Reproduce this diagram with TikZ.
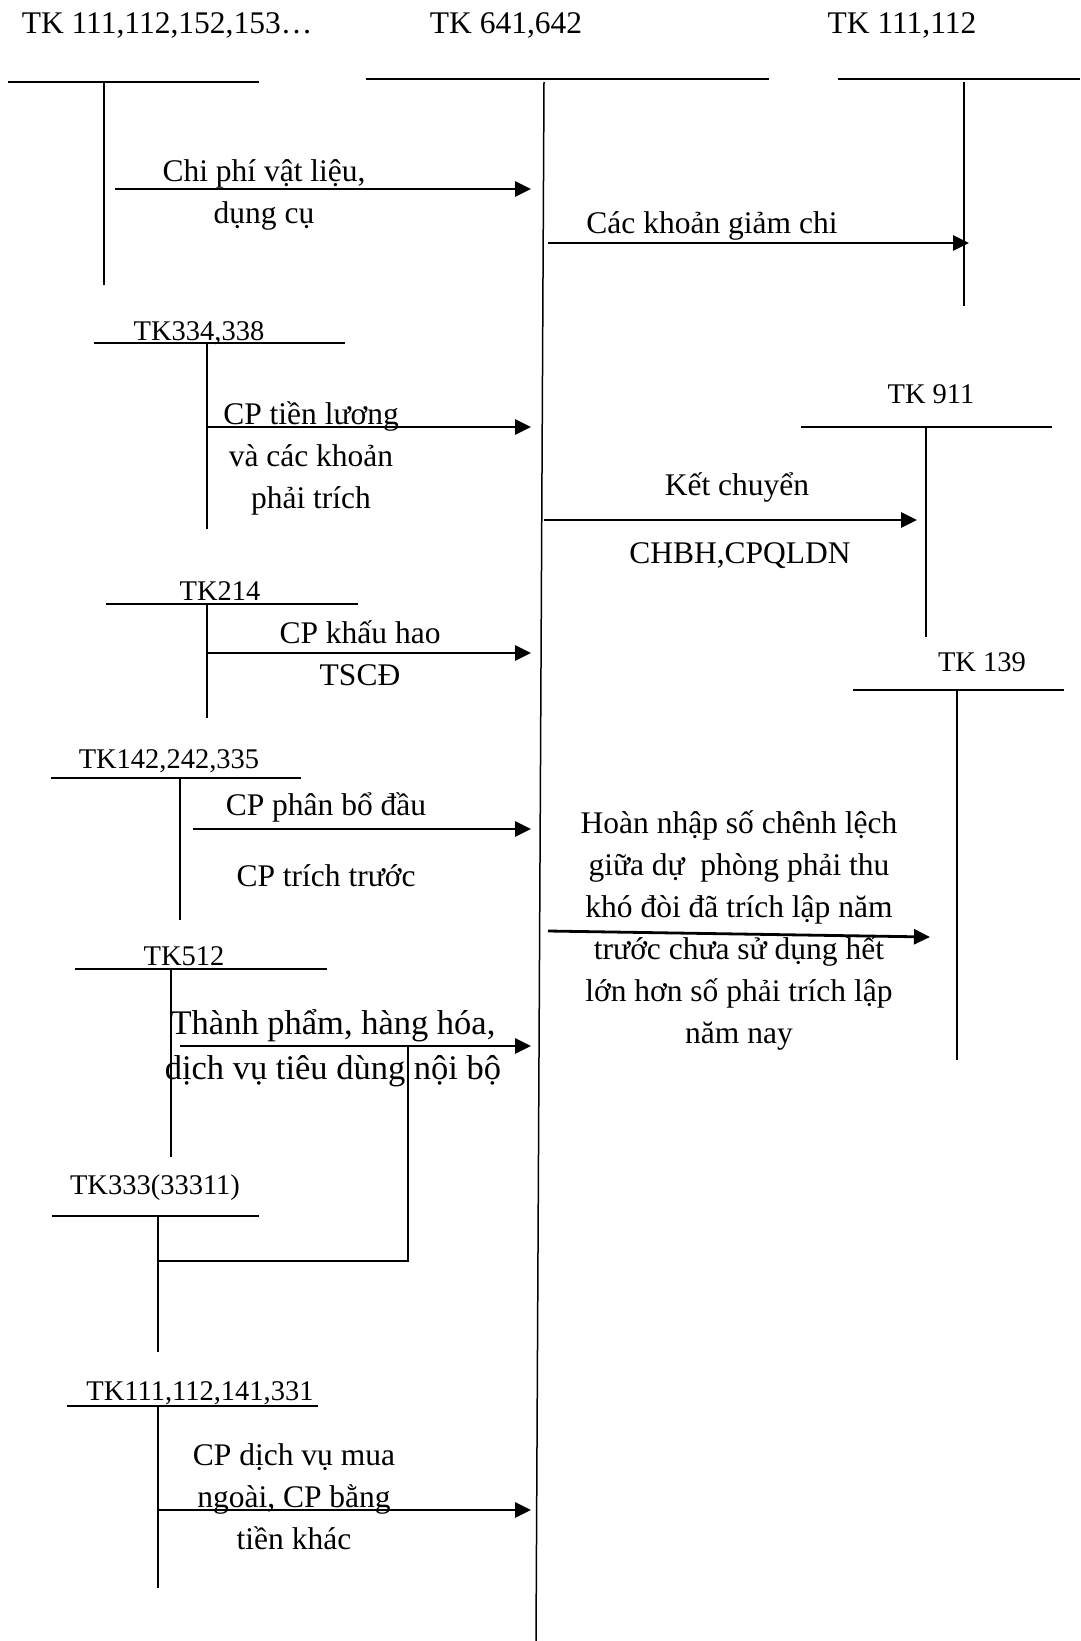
\documentclass[tikz,border=0pt]{standalone}
\usepackage{fontspec}
\setmainfont{Liberation Serif}
\usetikzlibrary{arrows.meta}

\begin{document}
\begin{tikzpicture}[x=1pt, y=-1pt,
 head/.style={font=\fontsize{31.5}{42}\selectfont, inner sep=0pt},
 acct/.style={font=\fontsize{28.5}{34}\selectfont, inner sep=0pt},
 note/.style={font=\fontsize{31.5}{42}\selectfont, align=center, inner sep=0pt},
 tline/.style={line width=2pt},
 stem/.style={line width=1.5pt},
 arr/.style={-{Triangle[length=16pt,width=15pt]}, line width=2.8pt}]
\useasboundingbox (0,0) rectangle (1080,1641);

% account headings
\node[head] (h1) at (167,25) {TK 111,112,152,153…};
\node[head] (h2) at (506,25) {TK 641,642};
\node[head] (h3) at (902,25) {TK 111,112};
\node[acct] (t334) at (199,333) {TK334,338};
\node[acct] (t911) at (931,394) {TK 911};
\node[acct] (t214) at (220,591) {TK214};
\node[acct] (t139) at (982,662) {TK 139};
\node[acct] (t142) at (169,761) {TK142,242,335};
\node[acct] (t512) at (184,956) {TK512};
\node[acct] (t333) at (155,1188) {TK333(33311)};
\node[acct] (t111) at (200,1393) {TK111,112,141,331};

% T accounts
\draw[tline] (8,82) -- (259,82);
\draw[stem] (104,82) -- (104,285);
\draw[tline] (366,79) -- (769,79);
\draw[stem] (544,82) -- (536,1641);
\draw[tline] (838,79) -- (1080,79);
\draw[stem] (964,82) -- (964,306);
\draw[tline] (94,343) -- (345,343);
\draw[stem] (207,343) -- (207,529);
\draw[tline] (801,427) -- (1052,427);
\draw[stem] (926,427) -- (926,637);
\draw[tline] (106,604) -- (358,604);
\draw[stem] (207,604) -- (207,718);
\draw[tline] (853,690) -- (1064,690);
\draw[stem] (957,690) -- (957,1060);
\draw[tline] (51,778) -- (301,778);
\draw[stem] (180,778) -- (180,920);
\draw[tline] (75,969) -- (327,969);
\draw[stem] (171,969) -- (171,1157);
\draw[tline] (52,1216) -- (259,1216);
\draw[stem] (158,1216) -- (158,1352);
\draw[tline] (67,1406) -- (318,1406);
\draw[stem] (158,1406) -- (158,1588);

% entries
\coordinate (s1) at (115,189);  \coordinate (e1) at (531,189);
\coordinate (s2) at (548,243);  \coordinate (e2) at (969,243);
\coordinate (s3) at (207,427);  \coordinate (e3) at (531,427);
\coordinate (s4) at (544,520);  \coordinate (e4) at (917,520);
\coordinate (s5) at (207,653);  \coordinate (e5) at (531,653);
\coordinate (s6) at (193,829);  \coordinate (e6) at (531,829);
\coordinate (s7) at (548,931);  \coordinate (e7) at (930,937);
\coordinate (s8) at (180,1046); \coordinate (e8) at (531,1046);
\coordinate (s9) at (158,1510); \coordinate (e9) at (531,1510);
\coordinate (k1) at (408,1046); \coordinate (k2) at (158,1261);

\draw[arr] (s1) -- (e1);
\draw[arr] (s2) -- (e2);
\draw[arr] (s3) -- (e3);
\draw[arr] (s4) -- (e4);
\draw[arr] (s5) -- (e5);
\draw[arr] (s6) -- (e6);
\draw[arr] (s7) -- (e7);
\draw[arr] (s8) -- (e8);
\draw[arr] (s9) -- (e9);
\draw[line width=2pt] (k1) |- (k2);

% texts
\node[note] (n1) at (264,195) {Chi phí vật liệu,\\dụng cụ};
\node[note] (n2) at (712,226) {Các khoản giảm chi};
\node[note] (n3) at (311,458) {CP tiền lương\\và các khoản\\phải trích};
\node[note] (n4) at (737,487) {Kết chuyển};
\node[note] (n4b) at (740,556) {CHBH,CPQLDN};
\node[note] (n5) at (360,653) {CP khấu hao\\TSCĐ};
\node[note] (n6) at (326,807) {CP phân bổ đầu};
\node[note] (n6b) at (326,876) {CP trích trước};
\node[note] (n7) at (739,930) {Hoàn nhập số chênh lệch\\giữa dự\ \ phòng phải thu\\khó đòi đã trích lập năm\\trước chưa sử dụng hết\\lớn hơn số phải trích lập\\năm nay};
\node[note, font=\fontsize{34.5}{45}\selectfont] (n8) at (333,1048) {Thành phẩm, hàng hóa,\\dịch vụ tiêu dùng nội bộ};
\node[note] (n9) at (294,1497) {CP dịch vụ mua\\ngoài, CP bằng\\tiền khác};
\end{tikzpicture}
\end{document}
